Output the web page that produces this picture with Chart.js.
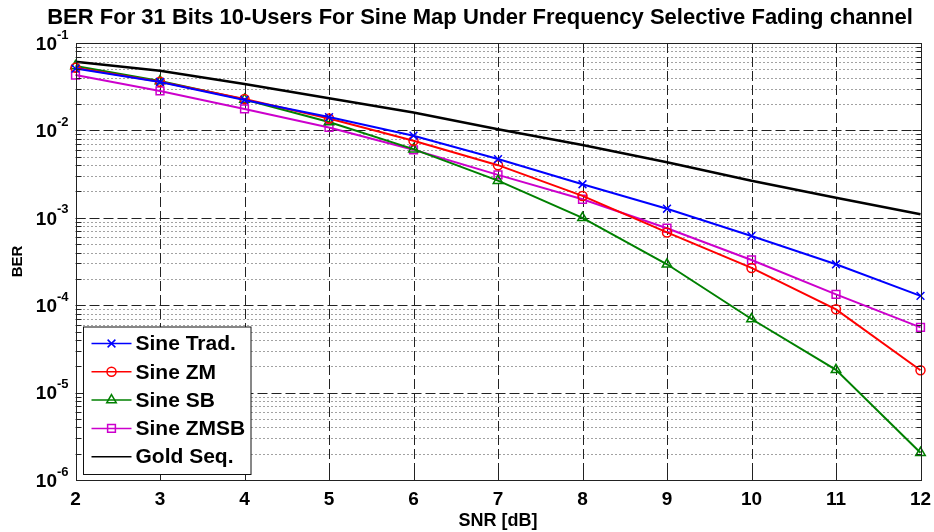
<!DOCTYPE html>
<html>
<head>
<meta charset="utf-8">
<script src="https://cdn.jsdelivr.net/npm/chart.js@4.4.1/dist/chart.umd.min.js"></script>
<style>
  html, body { margin: 0; padding: 0; background: #fff; }
  #wrap { width: 934px; height: 532px; }
</style>
</head>
<body>
<div id="wrap"><canvas id="ber"></canvas></div>
<script>
// SNR points (dB) and BER per scheme
const snr = [2, 3, 4, 5, 6, 7, 8, 9, 10, 11, 12];
const sineTrad = [0.051, 0.0358, 0.0223, 0.0142, 0.0087, 0.0047, 0.00242, 0.00127, 6.2e-4, 2.94e-4, 1.28e-4];
const sineZM   = [0.052, 0.036, 0.0229, 0.0137, 0.0076, 0.0040, 0.00178, 6.8e-4, 2.67e-4, 8.97e-5, 1.8e-5];
const sineSB   = [0.0546, 0.0367, 0.0226, 0.0125, 0.0061, 0.00266, 0.0010, 2.94e-4, 6.95e-5, 1.82e-5, 2.05e-6];
const sineZMSB = [0.043, 0.0283, 0.0176, 0.0108, 0.0060, 0.0031, 0.00163, 7.6e-4, 3.29e-4, 1.33e-4, 5.58e-5];
const goldSeq  = [0.0611, 0.0482, 0.034, 0.0233, 0.0160, 0.0103, 0.0068, 0.00431, 0.00266, 0.0017, 0.0011];

// y axis decades (powers of ten) and x tick labels
const yDecades = [-6, -5, -4, -3, -2, -1];
const xTicks = [2, 3, 4, 5, 6, 7, 8, 9, 10, 11, 12];

const TITLE = 'BER For 31 Bits 10-Users For Sine Map Under Frequency Selective Fading channel';
const FONT = 'Liberation Sans, Arial, Helvetica, sans-serif';

const toPoints = (ys) => ys.map((y, i) => ({ x: snr[i], y: y }));

function series(label, values, color, pointStyle, radius, width) {
    return {
        label: label,
        data: toPoints(values),
        borderColor: color,
        backgroundColor: 'transparent',
        borderWidth: width,
        pointStyle: pointStyle,
        pointRadius: radius,
        pointBorderColor: color,
        pointBackgroundColor: 'transparent',
        pointBorderWidth: 1.5,
        tension: 0,
        clip: false
    };
}

// Draw a marker the same way as Chart.js does
function marker(ctx, style, r, x, y, color) {
    if (style === false || r === 0) return;
    if (Chart.helpers && Chart.helpers.drawPoint) {
        ctx.save();
        ctx.strokeStyle = color;
        ctx.fillStyle = 'transparent';
        ctx.lineWidth = 1.5;
        Chart.helpers.drawPoint(ctx, { pointStyle: style, radius: r, borderWidth: 1.5, rotation: 0 }, x, y);
        ctx.restore();
    }
}

// MATLAB style grid, axis frame, tick marks, legend and labels
const matlabAxes = {
    id: 'matlabAxes',
    beforeDatasetsDraw(chart) {
        const { ctx, chartArea: a, scales: { x, y } } = chart;
        ctx.save();
        ctx.lineWidth = 1;
        // minor horizontal grid (dotted)
        ctx.strokeStyle = '#444';
        ctx.setLineDash([1, 3]);
        yDecades.slice(0, -1).forEach(e => {
            for (let k = 2; k <= 9; k++) {
                const py = Math.round(y.getPixelForValue(k * Math.pow(10, e))) + 0.5;
                ctx.beginPath();
                ctx.moveTo(a.left, py);
                ctx.lineTo(a.right, py);
                ctx.stroke();
            }
        });
        // major grid (dashed)
        ctx.strokeStyle = '#222';
        ctx.setLineDash([10, 4]);
        yDecades.slice(1, -1).forEach(e => {
            const py = Math.round(y.getPixelForValue(Math.pow(10, e))) + 0.5;
            ctx.beginPath();
            ctx.moveTo(a.left, py);
            ctx.lineTo(a.right, py);
            ctx.stroke();
        });
        xTicks.slice(1, -1).forEach(v => {
            const px = Math.round(x.getPixelForValue(v)) + 0.5;
            ctx.beginPath();
            ctx.moveTo(px, a.top);
            ctx.lineTo(px, a.bottom);
            ctx.stroke();
        });
        ctx.restore();
    },
    afterDatasetsDraw(chart) {
        const { ctx, chartArea: a, scales: { x, y } } = chart;
        ctx.save();
        ctx.strokeStyle = '#222';
        ctx.lineWidth = 1;
        ctx.setLineDash([]);
        const L = Math.round(a.left) + 0.5, R = Math.round(a.right) + 0.5;
        const T = Math.round(a.top) + 0.5, B = Math.round(a.bottom) + 0.5;
        ctx.beginPath();
        // minor y ticks
        yDecades.slice(0, -1).forEach(e => {
            for (let k = 2; k <= 9; k++) {
                const py = Math.round(y.getPixelForValue(k * Math.pow(10, e))) + 0.5;
                ctx.moveTo(L, py); ctx.lineTo(L + 5, py);
                ctx.moveTo(R, py); ctx.lineTo(R - 5, py);
            }
        });
        // major y ticks
        yDecades.forEach(e => {
            const py = Math.round(y.getPixelForValue(Math.pow(10, e))) + 0.5;
            ctx.moveTo(L, py); ctx.lineTo(L + 9, py);
            ctx.moveTo(R, py); ctx.lineTo(R - 9, py);
        });
        // x ticks
        xTicks.forEach(v => {
            const px = Math.round(x.getPixelForValue(v)) + 0.5;
            ctx.moveTo(px, B); ctx.lineTo(px, B - 9);
            ctx.moveTo(px, T); ctx.lineTo(px, T + 9);
        });
        ctx.stroke();
        ctx.strokeRect(L, T, R - L, B - T);

        // legend box inside the axes, lower left
        const box = { x: L + 7, y: B - 153.5, w: 167.5, h: 147.5 };
        ctx.fillStyle = '#fff';
        ctx.fillRect(box.x, box.y, box.w, box.h);
        ctx.strokeStyle = '#111';
        ctx.strokeRect(box.x, box.y, box.w, box.h);
        ctx.font = 'bold 21px ' + FONT;
        ctx.textAlign = 'left';
        ctx.textBaseline = 'middle';
        chart.data.datasets.forEach((ds, i) => {
            const ly = box.y + 16.5 + i * 28.3;
            ctx.strokeStyle = ds.borderColor;
            ctx.lineWidth = 1.5;
            ctx.beginPath();
            ctx.moveTo(box.x + 8, ly);
            ctx.lineTo(box.x + 48, ly);
            ctx.stroke();
            marker(ctx, ds.pointStyle, ds.pointRadius, box.x + 28, ly, ds.borderColor);
            ctx.fillStyle = '#000';
            ctx.fillText(ds.label, box.x + 52, ly + 1);
        });
        ctx.restore();
    },
    afterDraw(chart) {
        const { ctx, scales: { y } } = chart;
        ctx.save();
        ctx.fillStyle = '#000';
        // title, centred a little left of the plot centre as in the figure
        ctx.font = 'bold 22px ' + FONT;
        ctx.textAlign = 'center';
        ctx.textBaseline = 'middle';
        ctx.fillText(TITLE, 480, 18, 878);
        // y tick labels as 10 with a raised exponent
        yDecades.forEach(e => {
            const py = y.getPixelForValue(Math.pow(10, e));
            ctx.font = 'bold 19px ' + FONT;
            ctx.textAlign = 'right';
            ctx.fillText('10', 57, py + 1.5);
            ctx.font = 'bold 13px ' + FONT;
            ctx.textAlign = 'left';
            ctx.fillText('-' + Math.abs(e), 57, py - 8);
        });
        ctx.restore();
    }
};

new Chart(document.getElementById('ber'), {
    type: 'line',
    data: {
        datasets: [
            series('Sine Trad.', sineTrad, '#0000FF', 'crossRot', 5.5, 2),
            series('Sine ZM', sineZM, '#FF0000', 'circle', 4.5, 2),
            series('Sine SB', sineSB, '#008000', 'triangle', 5.5, 2),
            series('Sine ZMSB', sineZMSB, '#CC00CC', 'rect', 5.5, 2),
            series('Gold Seq.', goldSeq, '#000000', false, 0, 2.5)
        ]
    },
    options: {
        responsive: true,
        maintainAspectRatio: false,
        animation: false,
        layout: { padding: { top: 43, right: 13.5 } },
        plugins: {
            legend: { display: false },
            tooltip: { enabled: false },
            title: { display: false }
        },
        scales: {
            x: {
                type: 'linear',
                min: 2,
                max: 12,
                afterFit: (scale) => { scale.height = 52; },
                grid: { display: false },
                border: { display: false },
                ticks: {
                    stepSize: 1,
                    padding: 0,
                    color: '#000',
                    font: { family: FONT, size: 19, weight: 'bold' }
                },
                title: {
                    display: true,
                    text: 'SNR [dB]',
                    color: '#000',
                    font: { family: FONT, size: 18, weight: 'bold' },
                    padding: { top: 0, bottom: 0.5 }
                }
            },
            y: {
                type: 'logarithmic',
                min: 1e-6,
                max: 1e-1,
                afterFit: (scale) => { scale.width = 75.5; },
                grid: { display: false },
                border: { display: false },
                ticks: { display: false },
                title: {
                    display: true,
                    text: 'BER',
                    color: '#000',
                    font: { family: FONT, size: 15, weight: 'bold' },
                    padding: { top: 9, bottom: 0 }
                }
            }
        }
    },
    plugins: [matlabAxes]
});
</script>
</body>
</html>
